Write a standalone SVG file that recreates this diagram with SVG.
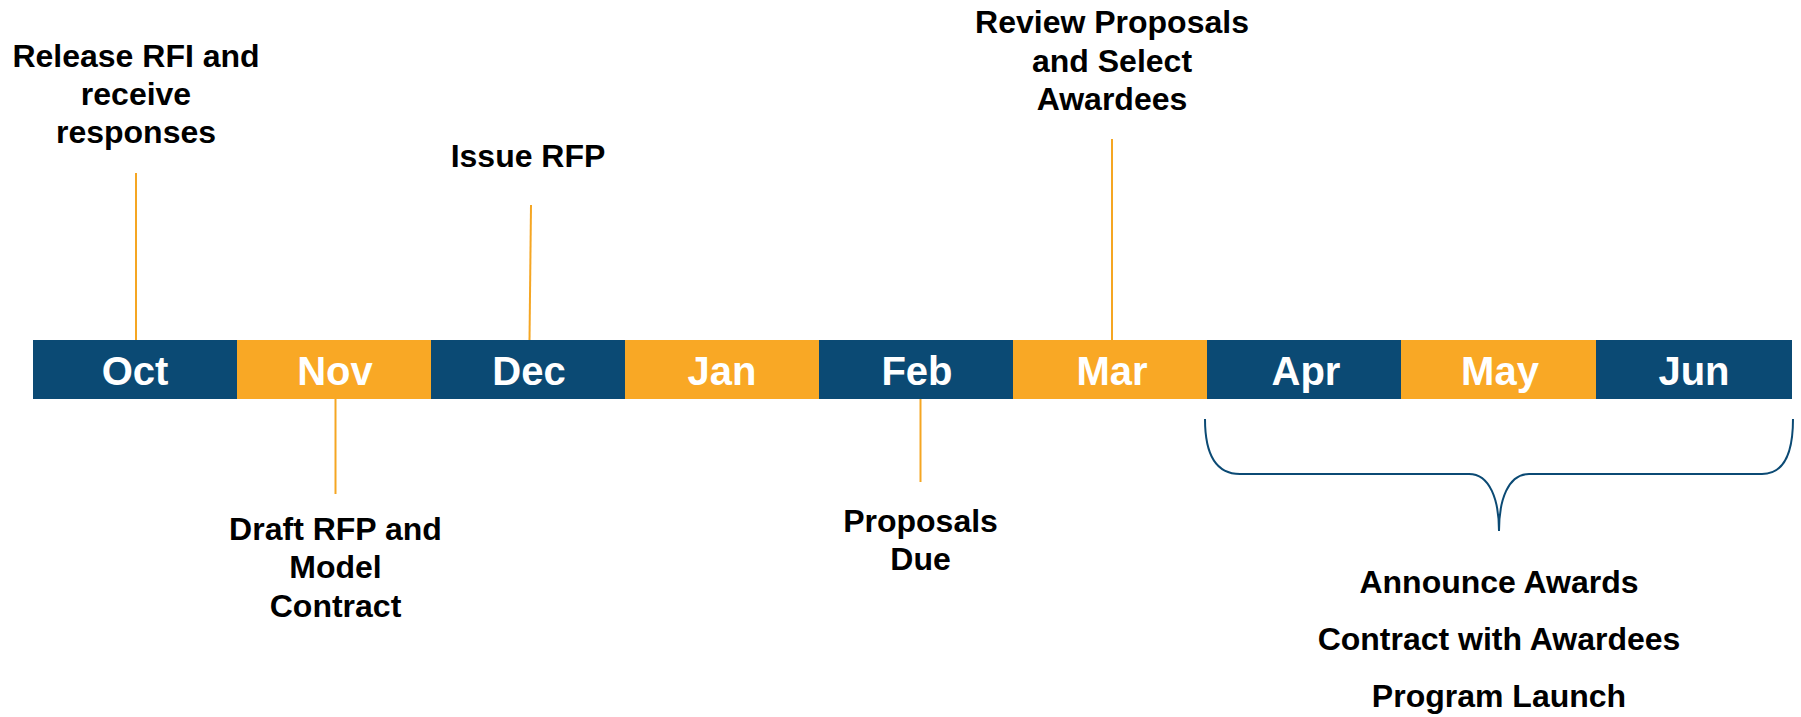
<svg xmlns="http://www.w3.org/2000/svg" width="1801" height="717" viewBox="0 0 1801 717">
<style>
.navy{fill:#0B4A74}
.orange{fill:#F9A825}
.month{font-family:"Liberation Sans",Arial,sans-serif;font-weight:bold;font-size:40px;fill:#FFFFFF;text-anchor:middle}
.lbl{font-family:"Liberation Sans",Arial,sans-serif;font-weight:bold;font-size:32px;fill:#000000;text-anchor:middle}
.tick{stroke:#F5A623;stroke-width:2;fill:none}
.brace{stroke:#0B4A74;stroke-width:2;fill:none}
</style>
<rect width="1801" height="717" fill="#FFFFFF"/>
<g id="connectors">
<line class="tick" x1="136" y1="173" x2="136" y2="341"/>
<line class="tick" x1="531" y1="205" x2="529.5" y2="341"/>
<line class="tick" x1="1112" y1="139" x2="1112" y2="341"/>
<line class="tick" x1="335.5" y1="399" x2="335.5" y2="494"/>
<line class="tick" x1="920.5" y1="399" x2="920.5" y2="482"/>
<path class="brace" d="M1205,419 C1205,452 1214,474 1240,474 L1469,474 C1490,474 1499,500 1499,531 C1499,500 1508,474 1529,474 L1762,474 C1785,474 1793,452 1793,419"/>
</g>
<g id="bar">
<g id="oct"><rect class="navy" x="33" y="340" width="204" height="59"/><text class="month" x="135" y="385">Oct</text></g>
<g id="nov"><rect class="orange" x="237" y="340" width="194" height="59"/><text class="month" x="335" y="385">Nov</text></g>
<g id="dec"><rect class="navy" x="431" y="340" width="194" height="59"/><text class="month" x="529" y="385">Dec</text></g>
<g id="jan"><rect class="orange" x="625" y="340" width="194" height="59"/><text class="month" x="722" y="385">Jan</text></g>
<g id="feb"><rect class="navy" x="819" y="340" width="194" height="59"/><text class="month" x="917" y="385">Feb</text></g>
<g id="mar"><rect class="orange" x="1013" y="340" width="194" height="59"/><text class="month" x="1112" y="385">Mar</text></g>
<g id="apr"><rect class="navy" x="1207" y="340" width="194" height="59"/><text class="month" x="1306" y="385">Apr</text></g>
<g id="may"><rect class="orange" x="1401" y="340" width="195" height="59"/><text class="month" x="1500" y="385">May</text></g>
<g id="jun"><rect class="navy" x="1596" y="340" width="196" height="59"/><text class="month" x="1694" y="385">Jun</text></g>
</g>
<g id="release-rfi"><text class="lbl" x="136" y="66.7">Release RFI and</text><text class="lbl" x="136" y="105">receive</text><text class="lbl" x="136" y="143.3">responses</text></g>
<g id="issue-rfp"><text class="lbl" x="528" y="166.7">Issue RFP</text></g>
<g id="review-proposals"><text class="lbl" x="1112" y="33.3">Review Proposals</text><text class="lbl" x="1112" y="71.6">and Select</text><text class="lbl" x="1112" y="110">Awardees</text></g>
<g id="draft-rfp"><text class="lbl" x="335.5" y="540">Draft RFP and</text><text class="lbl" x="335.5" y="578.3">Model</text><text class="lbl" x="335.5" y="616.7">Contract</text></g>
<g id="proposals-due"><text class="lbl" x="920.5" y="531.7">Proposals</text><text class="lbl" x="920.5" y="570">Due</text></g>
<g id="awards"><text class="lbl" x="1499" y="593.3">Announce Awards</text><text class="lbl" x="1499" y="650">Contract with Awardees</text><text class="lbl" x="1499" y="706.7">Program Launch</text></g>
</svg>
